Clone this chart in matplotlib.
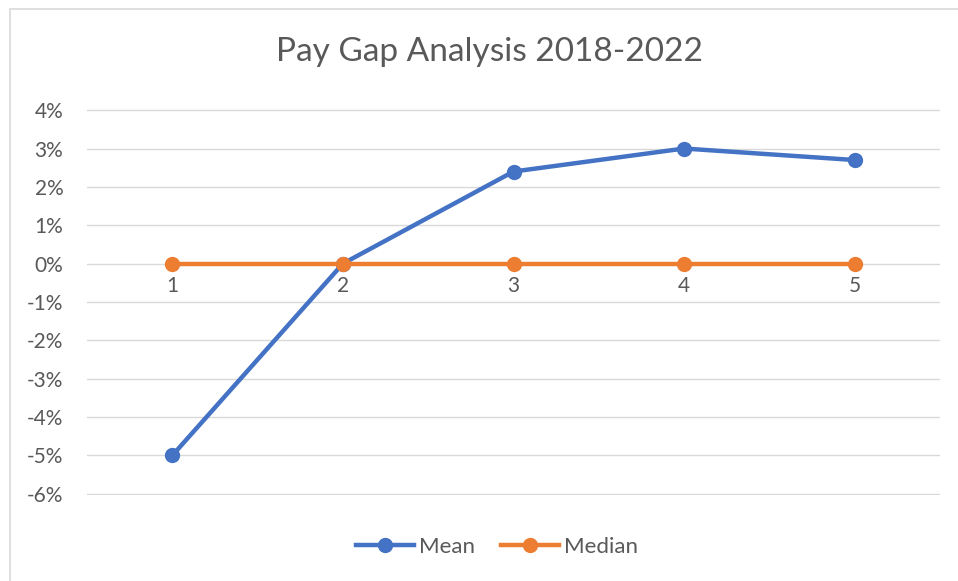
import matplotlib.pyplot as plt
from matplotlib.patches import Rectangle

# data
years = [1, 2, 3, 4, 5]
mean_gap = [-5.0, 0.0, 2.4, 3.0, 2.7]
median_gap = [0.0, 0.0, 0.0, 0.0, 0.0]
y_ticks = [4, 3, 2, 1, 0, -1, -2, -3, -4, -5, -6]

plt.rcParams['font.family'] = ['Lato', 'DejaVu Sans']
txt = '#595959'

fig = plt.figure(figsize=(9.58, 5.81), dpi=100)
ax = fig.add_axes([87/958, 1-495/581, (940-87)/958, (495-109)/581])

# chart border (only left and top visible in the crop)
fig.patches.append(Rectangle((10/958, -0.1), 2.0, 1-9/581+0.1, transform=fig.transFigure,
                             fill=False, edgecolor='#D9D9D9', linewidth=1.2))

ax.plot(years, mean_gap, color='#4472C4', linewidth=3.2, marker='o', markersize=10,
        label='Mean', zorder=3)
ax.plot(years, median_gap, color='#ED7D31', linewidth=3.2, marker='o', markersize=10,
        label='Median', zorder=4)

ax.set_xlim(0.5, 5.5)
ax.set_ylim(-6.03, 4.03)
ax.set_yticks(y_ticks)
ax.set_yticklabels([f'{t}%' for t in y_ticks], color=txt, fontsize=15)
ax.yaxis.grid(True, color='#D9D9D9', linewidth=1)
ax.set_axisbelow(True)
ax.tick_params(axis='y', length=0, pad=17)
ax.set_xticks([])
for s in ax.spines.values():
    s.set_visible(False)

# category labels sit just under the zero line
for x in years:
    ax.annotate(str(x), (x, 0), xytext=(0, -9), textcoords='offset points',
                ha='center', va='top', color=txt, fontsize=15)

fig.text(490/958, 1-52/581, 'Pay Gap Analysis 2018-2022', ha='center', va='center',
         color=txt, fontsize=24)

fig.legend(loc='center', bbox_to_anchor=(497/958, 1-547/581), ncol=2, frameon=False,
           fontsize=16, labelcolor=txt, handlelength=2.6, columnspacing=1.2, handletextpad=0.2)

plt.savefig('out.png', dpi=100)
